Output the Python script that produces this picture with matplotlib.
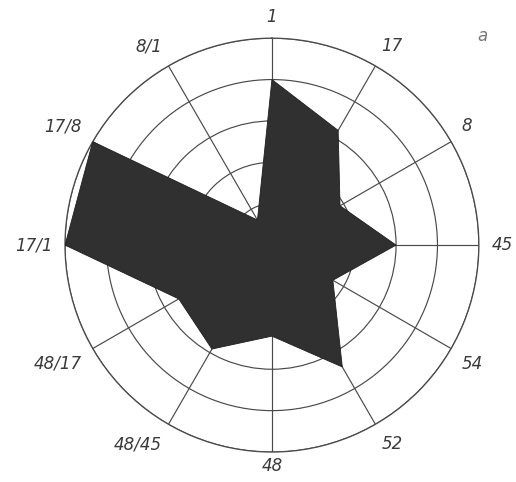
import numpy as np
import matplotlib
matplotlib.use("Agg")
import matplotlib.pyplot as plt

# directions clockwise from the top, and the value drawn on each one
labels = ["1", "17", "8", "45", "54", "52", "48", "48/45", "48/17", "17/1", "17/8", "8/1"]
values = [4.0, 3.2, 1.9, 3.0, 1.7, 3.4, 2.2, 2.9, 2.6, 5.0, 5.0, 0.7]
rings = [1, 2, 3, 4, 5]
panel = "а"

fig = plt.figure(figsize=(5.16, 4.82), dpi=100)
ax = fig.add_axes([0.126, 0.062, 0.802, 0.859], projection="polar")
ax.set_theta_zero_location("N")
ax.set_theta_direction(-1)
ax.set_ylim(0, rings[-1])

angles = np.deg2rad(np.arange(len(labels)) * 360.0 / len(labels))

# polygon, closed
th = np.append(angles, angles[0])
rr = np.append(values, values[0])
ax.fill(th, rr, color="#303030", edgecolor="#1e1e1e", linewidth=0.6, zorder=3)

# grid: rings and spokes
ax.set_yticks(rings)
ax.set_yticklabels([])
ax.set_xticks(angles)
ax.set_xticklabels([])
ax.grid(True, color="#4a4a4a", linewidth=0.85, linestyle="-")
ax.spines["polar"].set_color("#4a4a4a")
ax.spines["polar"].set_linewidth(0.95)
ax.tick_params(length=0)

# labels around the outside
for a, lab in zip(angles, labels):
    s, c = np.sin(a), np.cos(a)
    ha = "left" if s > 0.3 else ("right" if s < -0.3 else "center")
    va = "bottom" if c > 0.3 else ("top" if c < -0.3 else "center")
    r_lab = 5.12 if c < -0.9 else 5.3
    ax.text(a, r_lab, lab, ha=ha, va=va, fontsize=12, fontstyle="italic",
            color="#3a3a3a", clip_on=False)

fig.text(0.935, 0.925, panel, fontsize=12, fontstyle="italic", color="#777777",
         ha="center", va="center")

fig.savefig("out.png", dpi=100, facecolor="white")
